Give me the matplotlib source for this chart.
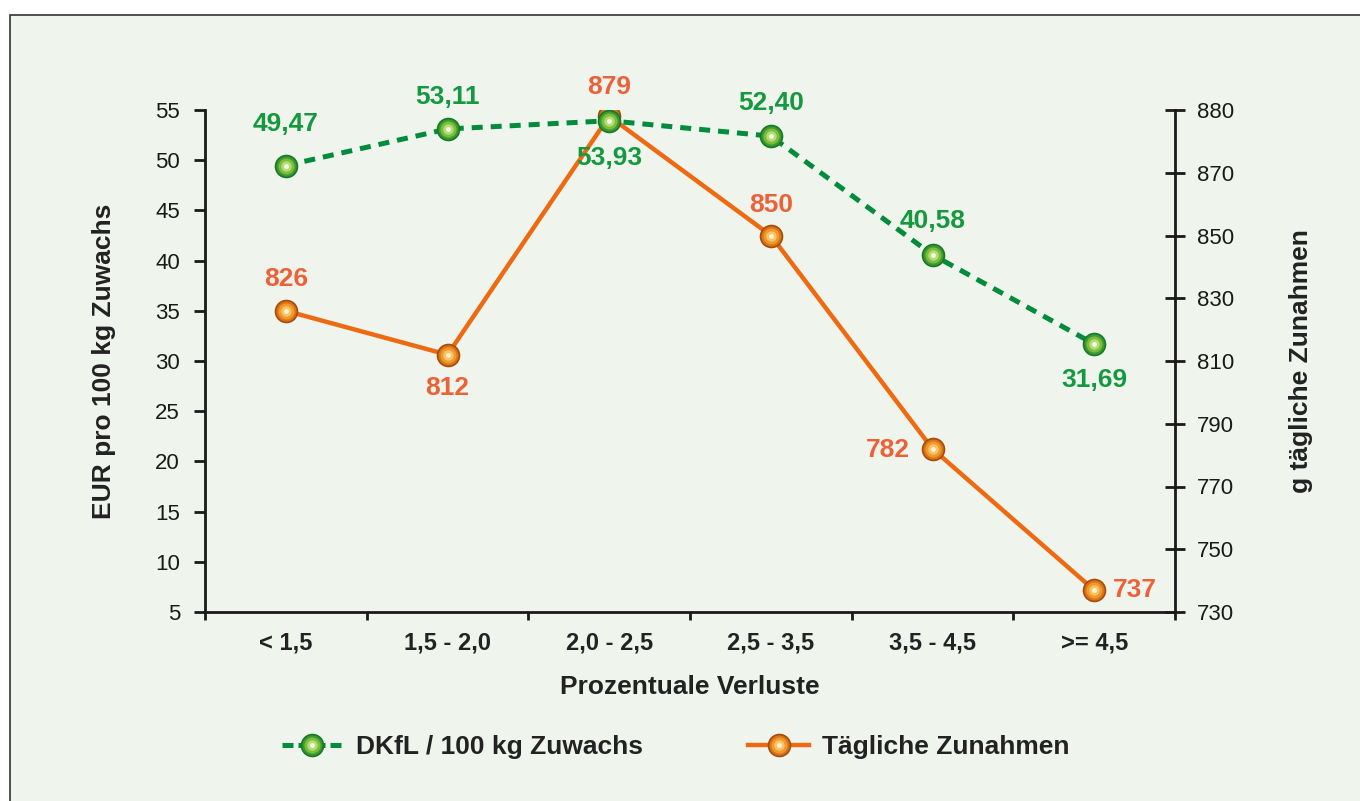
import matplotlib

matplotlib.use("Agg")
import matplotlib.pyplot as plt
import numpy as np
from matplotlib.lines import Line2D
from matplotlib.patches import Rectangle
from matplotlib.legend_handler import HandlerTuple

plt.rcParams["font.family"] = ["Liberation Sans", "DejaVu Sans"]

categories = ["< 1,5", "1,5 - 2,0", "2,0 - 2,5", "2,5 - 3,5", "3,5 - 4,5", ">= 4,5"]
dkfl = [49.47, 53.11, 53.93, 52.40, 40.58, 31.69]
zunahmen = [826, 812, 879, 850, 782, 737]
dkfl_labels = ["49,47", "53,11", "53,93", "52,40", "40,58", "31,69"]
left_ticks = list(range(5, 56, 5))
right_ticks = [730, 750, 770, 790, 810, 830, 850, 870, 880]

# label offsets in points (dx, dy)
dkfl_offsets = [(0, 30), (0, 23), (0, -27), (0, 24), (0, 24), (0, -26)]
zun_offsets = [(0, 23), (0, -24), (0, 21), (0, 22), (-32, -1), (29, 0)]

GREEN_LINE = "#008C3A"
GREEN_TEXT = "#15983F"
ORANGE_LINE = "#EE6A12"
ORANGE_TEXT = "#EC6238"
BG = "#EFF5EC"
DARK = "#1a1a1a"

GREEN_BALL = [(17, "#157A2A"), (14.5, "#3E9A30"), (11.5, "#7CBD3A"), (7.5, "#B5DC78"), (3.5, "#F2FAE0")]
ORANGE_BALL = [(17, "#A84C0C"), (14.5, "#D9741A"), (11.5, "#F19A2A"), (7.5, "#F8C468"), (3.5, "#FFF2D6")]

# right axis: the original chart squeezes the last step (870 -> 880) into a full tick gap
BREAK = 870.0


def _fwd(v):
    v = np.asarray(v, dtype=float)
    return np.where(v <= BREAK, v, BREAK + 2.0 * (v - BREAK))


def _inv(u):
    u = np.asarray(u, dtype=float)
    return np.where(u <= BREAK, u, BREAK + (u - BREAK) / 2.0)


fig = plt.figure(figsize=(13.6, 8.01), dpi=100)
fig.patches.append(Rectangle((10 / 1360, -0.05), 1.2, 1.05 - 15 / 801, transform=fig.transFigure,
                             facecolor=BG, edgecolor="#333333", linewidth=1.2, zorder=-5))

ax = fig.add_axes([205 / 1360, 1 - 612 / 801, 970 / 1360, 502 / 801])
ax.set_facecolor("none")
ax2 = ax.twinx()
ax2.set_facecolor("none")
ax2.set_yscale("function", functions=(_fwd, _inv))

x = list(range(len(categories)))


def sphere(axis, xs, ys, layers, z):
    for size, color in layers:
        axis.plot(xs, ys, "o", ms=size, mfc=color, mec="none", zorder=z)


# orange series (right axis)
ax2.plot(x, zunahmen, color=ORANGE_LINE, lw=3.2, zorder=2, solid_capstyle="butt")
sphere(ax2, x, zunahmen, ORANGE_BALL, 3)
for xi, yi, off in zip(x, zunahmen, zun_offsets):
    ax2.annotate(str(yi), (xi, yi), xytext=off, textcoords="offset points", ha="center",
                 va="center", fontsize=19, fontweight="bold", color=ORANGE_TEXT)

# green series (left axis), drawn above
ax.set_zorder(ax2.get_zorder() + 1)
ax.plot(x, dkfl, color=GREEN_LINE, lw=3.6, dashes=(2.2, 1.6), zorder=2)
sphere(ax, x, dkfl, GREEN_BALL, 3)
for xi, yi, lab, off in zip(x, dkfl, dkfl_labels, dkfl_offsets):
    ax.annotate(lab, (xi, yi), xytext=off, textcoords="offset points", ha="center",
                va="center", fontsize=19, fontweight="bold", color=GREEN_TEXT)

ax.set_xlim(-0.5, len(categories) - 0.5)
ax.set_ylim(5, 55)
ax.set_yticks(left_ticks)
ax2.set_ylim(730, 880)
ax2.set_yticks(right_ticks)
ax2.set_yticklabels([str(t) for t in right_ticks])
ax2.yaxis.set_minor_locator(matplotlib.ticker.NullLocator())

ax.set_xticks([i - 0.5 for i in range(len(categories) + 1)])
ax.set_xticklabels([])
ax.set_xticks(x, minor=True)
ax.set_xticklabels(categories, minor=True, fontsize=17, fontweight="bold", color="#222222")
ax.tick_params(axis="x", which="minor", length=0, pad=14)
ax.tick_params(axis="x", which="major", direction="out", length=6, width=2, color=DARK)
ax.tick_params(axis="y", direction="out", length=8, width=2, labelsize=16, colors=DARK, pad=10)
ax2.tick_params(axis="y", direction="inout", length=15, width=2, labelsize=16, colors=DARK, pad=8)

for a in (ax, ax2):
    a.spines["top"].set_visible(False)
    for side in ("left", "right", "bottom"):
        a.spines[side].set_linewidth(2)
        a.spines[side].set_color(DARK)
ax.spines["right"].set_visible(False)
ax2.spines["left"].set_visible(False)
ax2.spines["bottom"].set_visible(False)

ax.set_xlabel("Prozentuale Verluste", fontsize=19, fontweight="bold", color="#222222", labelpad=15)
ax.set_ylabel("EUR pro 100 kg Zuwachs", fontsize=19, fontweight="bold", color="#222222", labelpad=28)
ax2.set_ylabel("g tägliche Zunahmen", fontsize=19, fontweight="bold", color="#222222", labelpad=40)

# legend
g_line = Line2D([], [], color=GREEN_LINE, lw=3.6, dashes=(2.2, 1.0))
g_m = [Line2D([], [], ls="none", marker="o", ms=s, mfc=c, mec="none") for s, c in GREEN_BALL]
o_line = Line2D([], [], color=ORANGE_LINE, lw=3.2)
o_m = [Line2D([], [], ls="none", marker="o", ms=s, mfc=c, mec="none") for s, c in ORANGE_BALL]
fig.legend([tuple([g_line] + g_m), tuple([o_line] + o_m)],
           ["DKfL / 100 kg Zuwachs", "Tägliche Zunahmen"],
           handler_map={tuple: HandlerTuple(ndivide=1)},
           loc="center", bbox_to_anchor=(0.497, 1 - 747 / 801), ncol=2, frameon=False,
           prop={"size": 19, "weight": "bold"}, handlelength=2.3, handletextpad=0.5,
           columnspacing=4.0, labelcolor="#222222")

fig.savefig("out.png", dpi=100)
